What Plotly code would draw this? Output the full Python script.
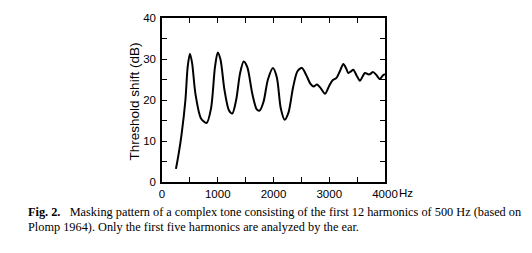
import plotly.graph_objects as go

freq_hz = [250, 300, 350, 420, 460, 500, 540, 600, 700, 800, 880, 950, 1000, 1050, 1120, 1200,
           1260, 1330, 1400, 1465, 1530, 1620, 1700, 1750, 1820, 1900, 1990, 2060, 2130, 2200,
           2270, 2350, 2430, 2510, 2590, 2660, 2720, 2780, 2840, 2925, 3000, 3060, 3130, 3190,
           3253, 3300, 3342, 3390, 3431, 3490, 3551, 3600, 3640, 3712, 3789, 3850, 3909, 3960, 4000]
shift_db = [3.2, 7.0, 11.5, 20.0, 28.0, 31.3, 29.0, 21.5, 15.5, 14.4, 18.0, 28.0, 31.6, 29.8, 22.5, 17.5,
            16.7, 20.0, 26.5, 29.4, 28.0, 21.5, 17.7, 17.4, 19.5, 25.0, 27.8, 25.5, 18.0, 15.2,
            17.0, 23.0, 27.0, 27.8, 26.0, 24.0, 23.3, 23.8, 23.0, 21.5, 23.5, 24.8, 25.4, 27.0,
            28.8, 27.8, 26.6, 27.0, 27.4, 26.0, 24.7, 25.8, 26.6, 26.2, 26.8, 26.0, 25.1, 26.0, 26.3]

x_tickvals = [0, 500, 1000, 1500, 2000, 2500, 3000, 3500, 4000]
x_ticktext = ["0", "", "1000", "", "2000", "", "3000", "", "4000"]
y_tickvals = [0, 5, 10, 15, 20, 25, 30, 35, 40]
y_ticktext = ["0", "", "10", "", "20", "", "30", "", "40"]

y_title = "Threshold shift (dB)"
caption_1 = "<b>Fig. 2.</b>   Masking pattern of a complex tone consisting of the first 12 harmonics of 500 Hz (based on"
caption_2 = "Plomp 1964). Only the first five harmonics are analyzed by the ear."

L, R, T, B = 161.5, 385.0, 18.0, 182.3
W, H = 532, 253

def px(xp):
    return (xp - L) / (R - L)

def py(yp):
    return (B - yp) / (B - T)

tick_font = dict(family="Liberation Sans, Arial", size=11.5, color="black")
serif = dict(family="Liberation Serif, Times New Roman, serif", size=12.3, color="black")

fig = go.Figure()
fig.add_trace(go.Scatter(x=freq_hz, y=shift_db, mode="lines",
                         line=dict(color="black", width=2, shape="spline", smoothing=0.8),
                         hoverinfo="skip", showlegend=False))

fig.update_layout(
    width=W, height=H,
    margin=dict(l=L, r=W - R, t=T, b=H - B, pad=0),
    paper_bgcolor="white", plot_bgcolor="white",
    showlegend=False,
    xaxis=dict(range=[0, 4000], tickvals=x_tickvals, ticktext=x_ticktext,
               ticks="inside", ticklen=5, tickwidth=1.3, tickcolor="black",
               showline=True, linecolor="black", linewidth=1.5, mirror="ticks",
               showgrid=False, zeroline=False, tickfont=tick_font),
    yaxis=dict(range=[0, 40], tickvals=y_tickvals, ticktext=y_ticktext,
               ticks="inside", ticklen=5, tickwidth=1.3, tickcolor="black",
               showline=True, linecolor="black", linewidth=1.5, mirror="ticks",
               showgrid=False, zeroline=False, tickfont=tick_font,
               ticklabelstandoff=2),
)

fig.add_annotation(text=y_title, textangle=-90, xref="paper", yref="paper",
                   x=px(134), y=py(102), showarrow=False, xanchor="center", yanchor="middle",
                   font=dict(family="Liberation Sans, Arial", size=13.5, color="black"))
fig.add_annotation(text="Hz", xref="paper", yref="paper", x=px(397), y=py(193),
                   showarrow=False, xanchor="left", yanchor="middle", font=tick_font)
fig.add_annotation(text=caption_1, xref="paper", yref="paper", x=px(25), y=py(212),
                   showarrow=False, xanchor="left", yanchor="middle", font=serif)
fig.add_annotation(text=caption_2, xref="paper", yref="paper", x=px(25), y=py(227),
                   showarrow=False, xanchor="left", yanchor="middle", font=serif)

fig.write_html("out.html")
